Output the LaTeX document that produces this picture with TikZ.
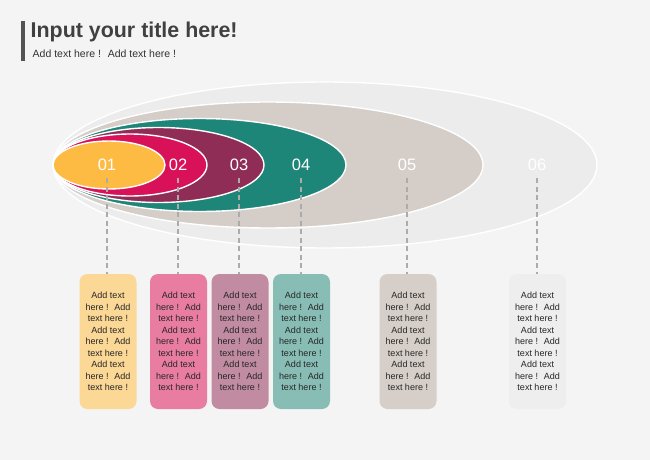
\documentclass[tikz,border=0pt]{standalone}
\usepackage{fontspec}
\setmainfont{Liberation Sans}
\usetikzlibrary{positioning}
\definecolor{bgc}{HTML}{F4F4F4}
\definecolor{ring1}{HTML}{FDBB43}
\definecolor{ring2}{HTML}{D81159}
\definecolor{ring3}{HTML}{8F2D56}
\definecolor{ring4}{HTML}{1E8579}
\definecolor{ring5}{HTML}{D5CDC7}
\definecolor{ring6}{HTML}{ECECEC}
\definecolor{card1}{HTML}{FCD896}
\definecolor{card2}{HTML}{E97DA1}
\definecolor{card3}{HTML}{C18BA1}
\definecolor{card4}{HTML}{88BDB6}
\definecolor{card5}{HTML}{D6CFC9}
\definecolor{card6}{HTML}{EEEEEE}
\definecolor{inkc}{HTML}{404040}
\newcommand{\cardtext}{Add text\\here ! \ Add\\text here !\\Add text\\here ! \ Add\\text here !\\Add text\\here ! \ Add\\text here !}

\begin{document}
\begin{tikzpicture}[x=1pt,y=-1pt,
  ring/.style={draw=white,line width=1.4pt},
  num/.style={text=white,font=\fontsize{16.5}{16.5}\selectfont,inner sep=3pt},
  card/.style={rounded corners=8pt,minimum width=57pt,minimum height=135pt,align=center,
    text=black!85,font=\fontsize{9}{11.5}\selectfont,inner sep=0pt},
  link/.style={draw=black!33,line width=1.8pt,dash pattern=on 5pt off 3.5pt,shorten <=4pt}]
\fill[bgc] (0,0) rectangle (650,460);
\useasboundingbox (0,0) rectangle (650,460);
% header
\fill[inkc!90] (21,21) rectangle (25,61);
\node[anchor=west,inner sep=0pt,text=inkc,font=\fontsize{21.4}{21.4}\selectfont\bfseries] (title) at (30.5,32) {Input your title here!};
\node[anchor=west,inner sep=0pt,text=black!80,font=\fontsize{10.5}{10.5}\selectfont] (sub) at (32.5,54) {Add text here ! \ Add text here !};
% rings, largest first
\draw[ring,fill=ring6] (325,165) ellipse [x radius=272,y radius=83];
\draw[ring,fill=ring5] (268,165) ellipse [x radius=215,y radius=63];
\draw[ring,fill=ring4] (199.5,165) ellipse [x radius=146.5,y radius=46.5];
\draw[ring,fill=ring3] (158.5,165) ellipse [x radius=105.5,y radius=37.5];
\draw[ring,fill=ring2] (130,165) ellipse [x radius=77,y radius=31];
\draw[ring,fill=ring1] (109,165) ellipse [x radius=56,y radius=24];
\node[num] (n1) at (107,165) {01};
\node[num] (n2) at (178,165) {02};
\node[num] (n3) at (239,165) {03};
\node[num] (n4) at (301,165) {04};
\node[num] (n5) at (407,165) {05};
\node[num] (n6) at (537,165) {06};
% cards
\node[card,fill=card1] (b1) at (108,341.5) {\cardtext};
\node[card,fill=card2] (b2) at (178.5,341.5) {\cardtext};
\node[card,fill=card3] (b3) at (240,341.5) {\cardtext};
\node[card,fill=card4] (b4) at (301.5,341.5) {\cardtext};
\node[card,fill=card5] (b5) at (408,341.5) {\cardtext};
\node[card,fill=card6] (b6) at (537.5,341.5) {\cardtext};
\draw[link] (n1.south) -- (n1.south |- b1.north);
\draw[link] (n2.south) -- (n2.south |- b2.north);
\draw[link] (n3.south) -- (n3.south |- b3.north);
\draw[link] (n4.south) -- (n4.south |- b4.north);
\draw[link] (n5.south) -- (n5.south |- b5.north);
\draw[link] (n6.south) -- (n6.south |- b6.north);
\end{tikzpicture}
\end{document}
